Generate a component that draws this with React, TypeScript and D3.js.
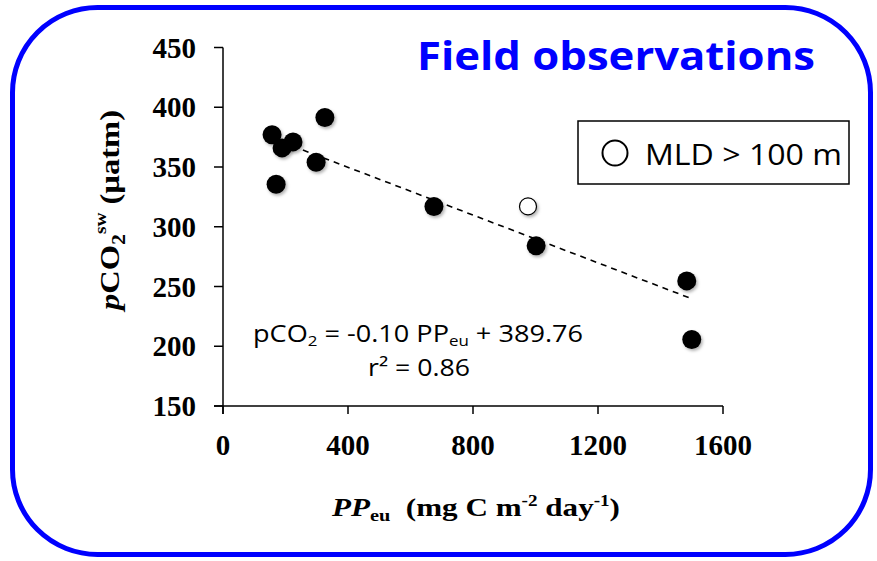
import React from "react";
import * as d3 from "d3";

const ppValues = [157, 326, 189, 224, 170, 298, 675, 1002, 1484, 1500];
const pco2Values = [377, 391.5, 366, 371, 335.5, 354, 317, 284, 254.7, 205.7];
const deepPP = [976];
const deepPCO2 = [317];
const xTicks = [0, 400, 800, 1200, 1600];
const yTicks = [150, 200, 250, 300, 350, 400, 450];
const slope = -0.1;
const intercept = 389.76;

const W = 877;
const H = 561;

export default function App() {
  const x = d3.scaleLinear().domain([0, 1600]).range([223, 723]);
  const y = d3.scaleLinear().domain([150, 450]).range([406, 47.5]);
  const pts = ppValues.map((v, i) => ({ x: v, y: pco2Values[i] }));
  const open = deepPP.map((v, i) => ({ x: v, y: deepPCO2[i] }));
  const [xmin, xmax] = d3.extent(ppValues) as [number, number];
  const line = d3
    .line<number>()
    .x((d) => x(d))
    .y((d) => y(slope * d + intercept));
  const serif = "'Liberation Serif', 'Times New Roman', serif";
  const sans = "'Open Sans', sans-serif";
  return (
    <svg
      width={W}
      height={H}
      style={{ position: "absolute", left: 0, top: 0, background: "#fff" }}
    >
      <defs>
        <filter id="sh" x="-50%" y="-50%" width="200%" height="200%">
          <feDropShadow dx="1.5" dy="2" stdDeviation="1.5" floodColor="#000" floodOpacity="0.3" />
        </filter>
      </defs>
      <rect x={12.5} y={7.5} width={858} height={547} rx={85} ry={85} fill="#fff" stroke="#0000ff" strokeWidth={5} />
      <text x={417} y={70} fill="#0000ff" fontFamily={sans} fontWeight={700} fontSize={40} textLength={398} lengthAdjust="spacingAndGlyphs">
        Field observations
      </text>
      {/* axes */}
      <line x1={x(0)} x2={x(0)} y1={y(450)} y2={y(150) + 8} stroke="#000" strokeWidth={1.5} />
      <line x1={x(0) - 9} x2={x(1600)} y1={y(150)} y2={y(150)} stroke="#000" strokeWidth={1.5} />
      {yTicks.map((t) => (
        <g key={"y" + t}>
          <line x1={x(0) - 9} x2={x(0)} y1={y(t)} y2={y(t)} stroke="#000" strokeWidth={1.5} />
          <text x={196} y={y(t) + 10} textAnchor="end" fontFamily={serif} fontWeight={700} fontSize={29}>
            {t}
          </text>
        </g>
      ))}
      {xTicks.map((t) => (
        <g key={"x" + t}>
          <line x1={x(t)} x2={x(t)} y1={y(150)} y2={y(150) + 8} stroke="#000" strokeWidth={1.5} />
          <text x={x(t)} y={455} textAnchor="middle" fontFamily={serif} fontWeight={700} fontSize={29}>
            {t}
          </text>
        </g>
      ))}
      {/* y label */}
      <text transform="translate(119,210) rotate(-90)" textAnchor="middle" fontFamily={serif} fontWeight={700} fontSize={27} textLength={200} lengthAdjust="spacingAndGlyphs">
        <tspan fontStyle="italic">p</tspan>
        <tspan>CO</tspan>
        <tspan fontSize={18} dy={6}>2</tspan>
        <tspan fontSize={16} dy={-19}>sw</tspan>
        <tspan dy={13}> (µatm)</tspan>
      </text>
      {/* x label */}
      <text x={332} y={516} fontFamily={serif} fontWeight={700} fontSize={26} textLength={288} lengthAdjust="spacingAndGlyphs">
        <tspan fontStyle="italic">PP</tspan>
        <tspan fontSize={17} dy={5}>eu</tspan>
        <tspan dy={-5}>{"\u00a0\u00a0(mg C m"}</tspan>
        <tspan fontSize={16} dy={-10}>-2</tspan>
        <tspan dy={10}> day</tspan>
        <tspan fontSize={16} dy={-10}>-1</tspan>
        <tspan dy={10}>)</tspan>
      </text>
      {/* trend */}
      <path d={line([xmin, xmax]) || ""} fill="none" stroke="#000" strokeWidth={1.6} strokeDasharray="6,5" />
      {pts.map((p, i) => (
        <circle key={i} cx={x(p.x)} cy={y(p.y)} r={9.5} fill="#000" filter="url(#sh)" />
      ))}
      {open.map((p, i) => (
        <circle key={"o" + i} cx={x(p.x)} cy={y(p.y)} r={8.5} fill="#fff" stroke="#000" strokeWidth={1.2} filter="url(#sh)" />
      ))}
      {/* equation */}
      <text x={418} y={342} textAnchor="middle" fontFamily={sans} fontSize={24} textLength={330} lengthAdjust="spacingAndGlyphs">
        <tspan>pCO</tspan>
        <tspan fontSize={15} dy={4}>2</tspan>
        <tspan dy={-4}> = -0.10 PP</tspan>
        <tspan fontSize={15} dy={4}>eu</tspan>
        <tspan dy={-4}> + 389.76</tspan>
      </text>
      <text x={419} y={376} textAnchor="middle" fontFamily={sans} fontSize={24} textLength={102} lengthAdjust="spacingAndGlyphs">
        r² = 0.86
      </text>
      {/* legend */}
      <rect x={578} y={121} width={271} height={63} fill="#fff" stroke="#000" strokeWidth={1.5} />
      <circle cx={615} cy={153} r={12.5} fill="#fff" stroke="#000" strokeWidth={2} />
      <text x={645} y={165} fontFamily={sans} fontSize={30} textLength={197} lengthAdjust="spacingAndGlyphs">
        MLD &gt; 100 m
      </text>
    </svg>
  );
}
